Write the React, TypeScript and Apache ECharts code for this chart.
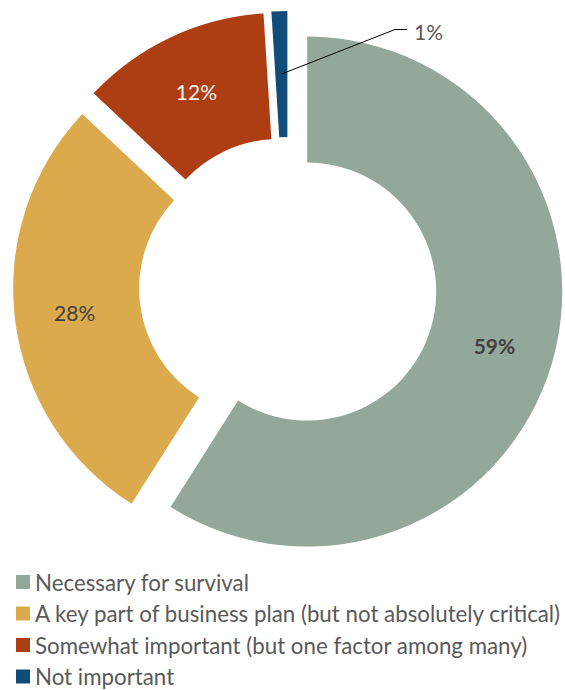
import React, { useEffect, useRef } from "react";
import * as echarts from "echarts";

const categories = [
  "Necessary for survival",
  "A key part of business plan (but not absolutely critical)",
  "Somewhat important (but one factor among many)",
  "Not important",
];
const values = [59, 28, 12, 1];
const labels = ["59%", "28%", "12%", "1%"];
const colors = ["#93A79B", "#DAAA4C", "#AD3E13", "#114C78"];

const FONT = "Lato, 'Liberation Sans', sans-serif";
const CX = 288;
const CY = 286;
const R_IN = 129;
const R_OUT = 255;
const OFFSET = 20;

export default function App() {
  const ref = useRef<HTMLDivElement>(null);
  useEffect(() => {
    document.body.style.margin = "0";
    const chart = echarts.init(ref.current!, null, { renderer: "svg" });
    const total = values.reduce((a, b) => a + b, 0);
    const before = values.slice(0, 3).reduce((a, b) => a + b, 0);
    const midDeg = 90 - (360 * (before + values[3] / 2)) / total;
    const th = (midDeg * Math.PI) / 180;
    const midR = (R_IN + R_OUT) / 2 + OFFSET;
    const sx = CX + midR * Math.cos(th);
    const sy = CY - midR * Math.sin(th);

    const base = {
      type: "pie",
      center: [CX, CY],
      radius: [R_IN, R_OUT],
      startAngle: 90,
      clockwise: true,
      avoidLabelOverlap: false,
      emphasis: { disabled: true },
    };

    chart.setOption({
      animation: false,
      legend: {
        orient: "vertical",
        left: 16,
        top: 571,
        height: 140,
        padding: 0,
        itemWidth: 14,
        itemHeight: 14,
        itemGap: 9.5,
        icon: "rect",
        selectedMode: false,
        textStyle: { fontFamily: FONT, fontSize: 22.3, color: "#595959" },
        data: categories,
      },
      series: [
        {
          ...base,
          name: "main",
          selectedMode: "multiple",
          selectedOffset: OFFSET,
          label: {
            show: true,
            position: "inside",
            fontFamily: FONT,
            fontSize: 21,
            color: "#404040",
            formatter: (p: any) => labels[p.dataIndex],
          },
          labelLine: { show: false },
          data: categories.map((name, i) => ({
            name,
            value: values[i],
            selected: true,
            itemStyle: { color: colors[i] },
            label:
              i === 0
                ? { fontWeight: "bold" }
                : i === 2
                ? { color: "#F2F2F2" }
                : i === 3
                ? { show: false }
                : {},
          })),
        },
        {
          ...base,
          name: "callout",
          silent: true,
          z: 3,
          itemStyle: { color: "rgba(0,0,0,0)" },
          label: {
            show: false,
            position: "outside",
            fontFamily: FONT,
            fontSize: 21,
            color: "#595959",
            formatter: (p: any) => labels[p.dataIndex],
          },
          labelLine: { show: false },
          labelLayout: (p: any) => {
            if (p.dataIndex === 3) {
              return {
                x: 414,
                y: 31,
                align: "left",
                verticalAlign: "middle",
                labelLinePoints: [
                  [sx, sy],
                  [395, 29.5],
                  [407, 29.5],
                ],
              };
            }
            return {};
          },
          data: categories.map((name, i) => ({
            name,
            value: values[i],
            itemStyle: { color: "rgba(0,0,0,0)" },
            label: i === 3 ? { show: true } : { show: false },
            labelLine:
              i === 3
                ? { show: true, lineStyle: { color: "#000", width: 1 } }
                : { show: false },
          })),
        },
      ],
    });
    return () => chart.dispose();
  }, []);
  return <div ref={ref} style={{ width: 565, height: 690 }} />;
}
